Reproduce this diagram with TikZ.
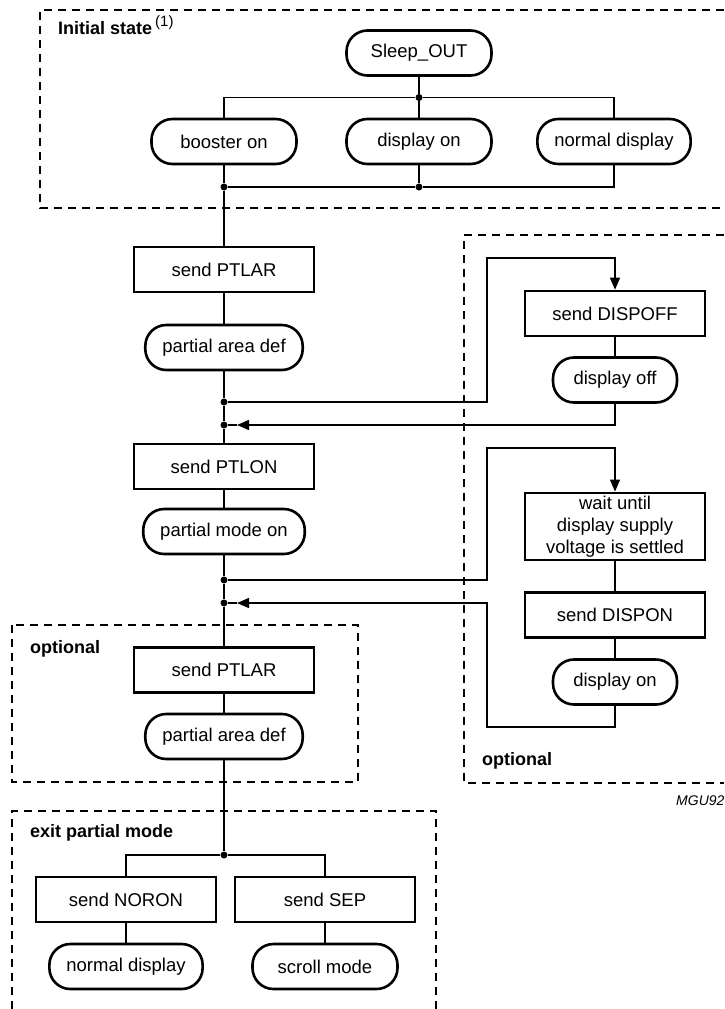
\documentclass[tikz,border=0pt]{standalone}
\usepackage{fontspec}
\setmainfont{Liberation Sans}
\usetikzlibrary{arrows.meta}
\tikzstyle{cmd}=[draw,line width=2.6pt,minimum width=180pt,minimum height=45pt,inner sep=3pt,align=center,font=\fontsize{18.5}{22}\selectfont]
\tikzstyle{state}=[draw,line width=2.6pt,rounded corners=21pt,minimum width=124pt,minimum height=45pt,inner xsep=17pt,font=\fontsize{18.5}{22}\selectfont]
\tikzstyle{dot}=[circle,fill=black,minimum size=7pt,inner sep=0pt]
\tikzstyle{line}=[draw,line width=1.4pt]
\tikzstyle{area}=[draw,line width=2pt,dash pattern=on 8pt off 6pt]
\tikzstyle{title}=[anchor=base west,inner sep=0pt,font=\bfseries\fontsize{18}{22}\selectfont]

\begin{document}
\begin{tikzpicture}[x=1pt,y=-1pt]
      \tikzset{flow/.style = {line,-{Triangle[length=12pt,width=10pt]}}}
      \useasboundingbox (0,0) rectangle (724,1009);
      % dashed areas
      \draw[area] (724,10) -- (40,10) -- (40,208) -- (724,208);
      \draw[area] (724,235) -- (464,235) -- (464,783) -- (724,783);
      \draw[area] (12,625) rectangle (358,782);
      \draw[area] (12,1009) -- (12,811) -- (436,811) -- (436,1009);
      \node[title] (tinit) at (58,34) {Initial state\hspace{3pt}\raisebox{8pt}{\mdseries\fontsize{15}{17}\selectfont(1)}};
      \node[title] (topt1) at (482,765) {optional};
      \node[title] (topt2) at (30,653) {optional};
      \node[title] (texit) at (30,837) {exit partial mode};
      \node[anchor=base west,inner sep=0pt,font=\itshape\fontsize{14}{16}\selectfont] (code) at (676,805) {MGU92};
      % initial state
      \node[state,minimum width=145pt] (sleep) at (419,53) {Sleep\_OUT};
      \node[dot] (j1) at (419,97.5) {};
      \node[state,minimum width=145pt] (booster) at (224,141.5) {booster on};
      \node[state,minimum width=145pt] (dispon1) at (419,141.5) {display on};
      \node[state,minimum width=145pt] (norm1) at (614,141.5) {normal display};
      \node[dot] (jb1) at (224,187) {};
      \node[dot] (jb2) at (419,187) {};
      % main column
      \node[cmd] (ptlar1) at (224,269.5) {send PTLAR};
      \node[state] (area1) at (224,347.5) {partial area def};
      \node[dot] (d1) at (224,402) {};
      \node[dot] (d2) at (224,425) {};
      \node[cmd] (ptlon) at (224,466.5) {send PTLON};
      \node[state] (pmode) at (224,531.5) {partial mode on};
      \node[dot] (d3) at (224,580) {};
      \node[dot] (d4) at (224,603) {};
      \node[cmd] (ptlar2) at (224,670) {send PTLAR};
      \node[state] (area2) at (224,736.5) {partial area def};
      \node[dot] (d5) at (224,855) {};
      \node[cmd] (noron) at (126,899.5) {send NORON};
      \node[cmd] (sep) at (325,899.5) {send SEP};
      \node[state,minimum width=145pt] (norm2) at (126,966.5) {normal display};
      \node[state,minimum width=145pt] (scroll) at (325,966.5) {scroll mode};
      % optional branch
      \node[cmd] (dispoff) at (615,313.5) {send DISPOFF};
      \node[state] (dispoffst) at (615,380) {display off};
      \node[cmd] (wait) at (615,526.5) {wait until\\display supply\\voltage is settled};
      \node[cmd] (dispon) at (615,615) {send DISPON};
      \node[state] (dispon2) at (615,682) {display on};
      \coordinate (l1) at (487,258);
      \coordinate (tip1) at (237,425);
      \coordinate (l2) at (487,448);
      \coordinate (r2) at (487,727);
      \coordinate (tip2) at (237,603);
      % connectors
      \draw[line] (sleep) -- (j1);
      \draw[line] (booster.north) |- (j1) -| (norm1.north);
      \draw[line] (j1) -- (dispon1);
      \draw[line] (booster) -- (jb1);
      \draw[line] (dispon1) -- (jb2);
      \draw[line] (norm1.south) |- (jb2) -- (jb1);
      \draw[line] (jb1) -- (ptlar1);
      \draw[line] (ptlar1) -- (area1);
      \draw[line] (area1) -- (d1) -- (d2) -- (ptlon);
      \draw[line] (ptlon) -- (pmode);
      \draw[line] (pmode) -- (d3) -- (d4) -- (ptlar2);
      \draw[line] (ptlar2) -- (area2);
      \draw[line] (area2) -- (d5);
      \draw[line] (noron.north) |- (d5) -| (sep.north);
      \draw[line] (noron) -- (norm2);
      \draw[line] (sep) -- (scroll);
      \draw[flow] (d1) -| (l1) -| (dispoff.north);
      \draw[line] (dispoff) -- (dispoffst);
      \draw[flow] (dispoffst.south) |- (tip1);
      \draw[line] (tip1) -- (d2);
      \draw[flow] (d3) -| (l2) -| (wait.north);
      \draw[line] (wait) -- (dispon);
      \draw[line] (dispon) -- (dispon2);
      \draw[flow] (dispon2.south) |- (r2) |- (tip2);
      \draw[line] (tip2) -- (d4);
\end{tikzpicture}
\end{document}
